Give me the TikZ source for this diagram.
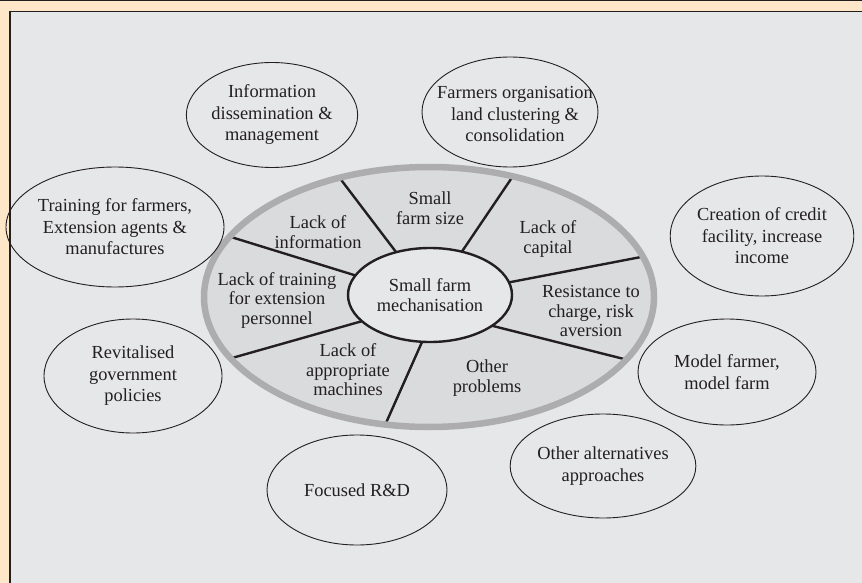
\documentclass[tikz,border=0pt]{standalone}
\usepackage{fontspec}
\setmainfont{Liberation Serif}
\usetikzlibrary{shapes.geometric,calc}
\definecolor{orangebg}{HTML}{FEE6C8}
\definecolor{panel}{HTML}{E6E7E8}
\definecolor{segfill}{HTML}{DADBDD}
\definecolor{ringgray}{HTML}{ADADAF}
\definecolor{dark}{HTML}{231F20}
\begin{document}
\begin{tikzpicture}[x=1pt,y=-1pt,
  outerell/.style={ellipse,draw=dark,line width=0.9pt,inner sep=0pt,align=center,text=dark,
    font=\fontsize{18.4}{21.5}\selectfont},
  segtext/.style={align=center,text=dark,inner sep=0pt,font=\fontsize{18.4}{19.5}\selectfont},
  spoke/.style={draw=dark,line width=2.4pt}]
\useasboundingbox (0,0) rectangle (862,583);
\fill[orangebg] (0,0) rectangle (862,583);
\draw[dark,line width=1.5pt] (0,0.75) -- (862,0.75);
\fill[panel] (10,11.5) rectangle (862,583);
\draw[dark,line width=1.2pt] (10,583) -- (10,11.5) -- (862,11.5);

% big ellipse
\node[ellipse,fill=segfill,minimum width=450pt,minimum height=260pt,inner sep=0pt] (big) at (429,297) {};
% spokes
\coordinate (s1a) at (396,252); \coordinate (s1b) at (342,181);
\coordinate (s2a) at (463,250); \coordinate (s2b) at (511,179);
\coordinate (s3a) at (511,282); \coordinate (s3b) at (641,257);
\coordinate (s4a) at (493,326); \coordinate (s4b) at (624,359);
\coordinate (s5a) at (422,342); \coordinate (s5b) at (386,423);
\coordinate (s6a) at (359,322); \coordinate (s6b) at (232,358);
\coordinate (s7a) at (354,275); \coordinate (s7b) at (231,237);
\foreach \i in {1,...,7}{
  \draw[spoke] ($(s\i a)!-6pt!(s\i b)$) -- ($(s\i b)!-2.5pt!(s\i a)$);
}
\draw[ringgray,line width=6.5pt] (big.center) ellipse [x radius=225, y radius=130];
% inner ellipse
\node[ellipse,fill=panel,draw=dark,line width=2.4pt,minimum width=164pt,minimum height=94pt,inner sep=0pt,
  align=center,text=dark,font=\fontsize{18.4}{19.5}\selectfont] (inner) at (430,295) {Small farm\\mechanisation};

% segment texts
\node[segtext] (t1) at (318,232) {Lack of\\information};
\node[segtext] (t2) at (430,208) {Small\\farm size};
\node[segtext] (t3) at (548,239) {Lack of\\capital};
\node[segtext] (t4) at (591,311) {Resistance to\\charge, risk\\aversion};
\node[segtext] (t5) at (487,378) {Other\\problems};
\node[segtext] (t6) at (348,370) {Lack of\\appropriate\\machines};
\node[segtext] (t7) at (277,300) {Lack of training\\for extension\\personnel};

% outer ellipses
\node[outerell,minimum width=162pt,minimum height=105pt] (info) at (272,115) {Information\\dissemination \&\\management};
\node[outerell,minimum width=176pt,minimum height=110pt] (farm) at (510,112) {};
\node[align=center,text=dark,inner sep=0pt,font=\fontsize{18.4}{21.5}\selectfont] (farmtext) at (515,114) {Farmers organisation\\land clustering \&\\consolidation};
\node[outerell,minimum width=180pt,minimum height=120pt] (train) at (115,227) {Training for farmers,\\Extension agents \&\\manufactures};
\node[outerell,minimum width=178pt,minimum height=120pt] (credit) at (762,236) {Creation of credit\\facility, increase\\income};
\node[outerell,minimum width=178pt,minimum height=114pt] (revit) at (133,376) {Revitalised\\government\\policies};
\node[outerell,minimum width=178pt,minimum height=106pt] (model) at (727,372) {Model farmer,\\model farm};
\node[outerell,minimum width=180pt,minimum height=110pt] (rd) at (357,490) {Focused R\&D};
\node[outerell,minimum width=180pt,minimum height=104pt] (alt) at (603,466) {Other alternatives\\approaches};
\end{tikzpicture}
\end{document}
